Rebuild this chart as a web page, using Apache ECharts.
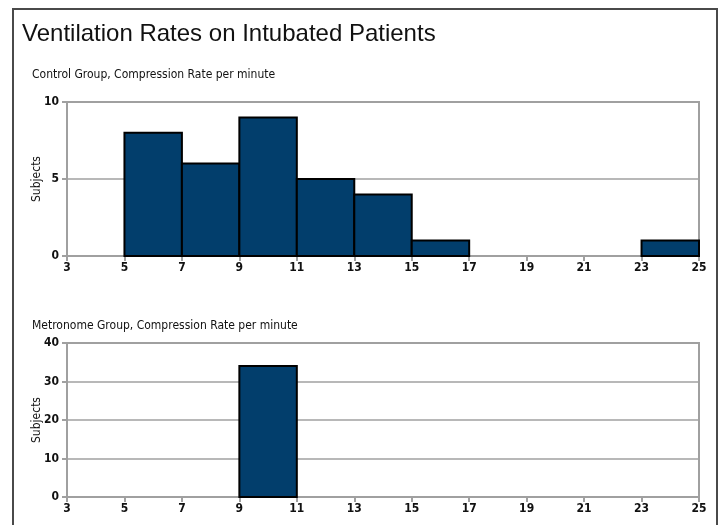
<!DOCTYPE html>
<html><head><meta charset="utf-8">
<script src="https://cdn.jsdelivr.net/npm/echarts@6/dist/echarts.min.js"></script>
<style>html,body{margin:0;padding:0;background:#fff}#c{width:720px;height:525px}</style>
</head><body><div id="c"></div>
<script>
// Bin edges [start, end] and counts
const controlBins = [[5,7],[7,9],[9,11],[11,13],[13,15],[15,17],[23,25]];
const controlCounts = [8,6,9,5,4,1,1];
const metronomeBins = [[9,11]];
const metronomeCounts = [34];
const xTicks = [3,5,7,9,11,13,15,17,19,21,23,25];

const FONT = "'Liberation Sans Narrow','Arial Narrow','DejaVu Sans Condensed',sans-serif";
const BAR = '#023e6c';
const GRAY = '#a0a0a0';

function toData(bins, counts){ return bins.map((b,i)=>[b[0], b[1], counts[i]]); }

function renderBar(params, api){
  const s = api.coord([api.value(0), api.value(2)]);
  const e = api.coord([api.value(1), 0]);
  return {type:'rect', shape:{x:s[0], y:s[1], width:e[0]-s[0], height:e[1]-s[1]},
    style:{fill:BAR, stroke:'#000', lineWidth:2}};
}

function xAxis(gi){
  return {type:'value', gridIndex:gi, min:xTicks[0], max:xTicks[xTicks.length-1], interval:2,
    axisLine:{show:true, onZero:false, lineStyle:{color:GRAY, width:2}},
    axisTick:{show:true, length:5, lineStyle:{color:GRAY, width:2}},
    splitLine:{show:false},
    axisLabel:{color:'#111', fontFamily:FONT, fontSize:12, fontWeight:'bold', margin:6, showMaxLabel:true, showMinLabel:true}};
}
function yAxis(gi, max, interval){
  return {type:'value', gridIndex:gi, min:0, max:max, interval:interval,
    name:'Subjects', nameLocation:'middle', nameGap:24, nameRotate:90, nameMoveOverlap:false,
    nameTextStyle:{color:'#111', fontFamily:FONT, fontSize:12},
    axisLine:{show:true, onZero:false, lineStyle:{color:GRAY, width:2}},
    axisTick:{show:true, length:5, lineStyle:{color:GRAY, width:2}},
    splitLine:{show:true, lineStyle:{color:GRAY, width:1.5}},
    axisLabel:{color:'#111', fontFamily:FONT, fontSize:12, fontWeight:'bold', margin:8}};
}

const chart = echarts.init(document.getElementById('c'), null, {renderer:'canvas'});
chart.setOption({
  animation:false,
  title:[
    {text:'Ventilation Rates on Intubated Patients', left:17, top:17,
      textStyle:{fontFamily:"'Liberation Sans',Arial,sans-serif", fontSize:24, fontWeight:'normal', color:'#111'}},
    {text:'Control Group, Compression Rate per minute', left:27, top:64,
      textStyle:{fontFamily:FONT, fontSize:12, fontWeight:'normal', color:'#111'}},
    {text:'Metronome Group, Compression Rate per minute', left:27, top:315,
      textStyle:{fontFamily:FONT, fontSize:12, fontWeight:'normal', color:'#111'}}
  ],
  grid:[
    {left:67, right:21, top:102, height:154, show:true, borderColor:GRAY, borderWidth:2, backgroundColor:'transparent'},
    {left:67, right:21, top:343, height:154, show:true, borderColor:GRAY, borderWidth:2, backgroundColor:'transparent'}
  ],
  xAxis:[xAxis(0), xAxis(1)],
  yAxis:[yAxis(0,10,5), yAxis(1,40,10)],
  series:[
    {type:'custom', xAxisIndex:0, yAxisIndex:0, renderItem:renderBar, data:toData(controlBins, controlCounts), encode:{x:[0,1], y:2}},
    {type:'custom', xAxisIndex:1, yAxisIndex:1, renderItem:renderBar, data:toData(metronomeBins, metronomeCounts), encode:{x:[0,1], y:2}}
  ],
  graphic:[
    {type:'polyline', shape:{points:[[13,530],[13,9],[717,9],[717,530]]}, style:{stroke:'#4a4a4a', lineWidth:2, fill:null}, z:100}
  ]
});
</script></body></html>
